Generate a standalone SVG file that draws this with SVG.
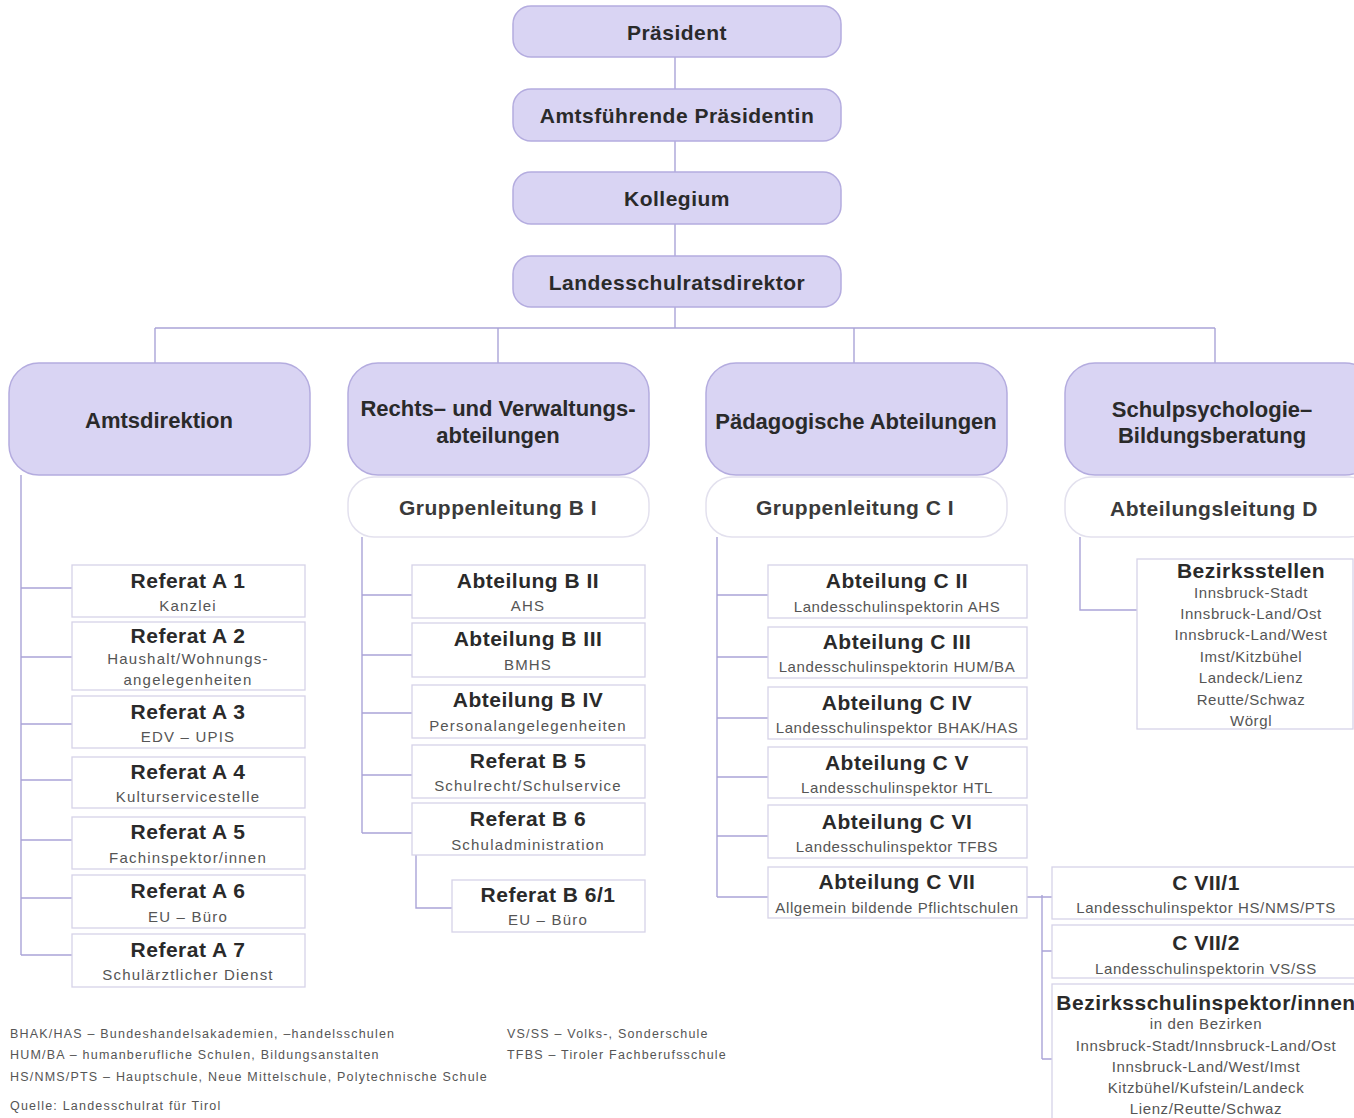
<svg xmlns="http://www.w3.org/2000/svg" width="1354" height="1118" viewBox="0 0 1354 1118">
<style>
.top{fill:#d9d4f3;stroke:#b4acdf;stroke-width:1.5}
.hdr{fill:#d9d4f3;stroke:#b4acdf;stroke-width:1.5}
.sub{fill:#ffffff;stroke:#e3e1ee;stroke-width:1.5}
.box{fill:#ffffff;stroke:#d6d3e8;stroke-width:1.3}
.t{font-family:"Liberation Sans",Arial,sans-serif;font-weight:bold;font-size:21px;fill:#2a2a2a;text-anchor:middle;letter-spacing:0.5px}
.h{font-family:"Liberation Sans",Arial,sans-serif;font-weight:bold;font-size:22px;fill:#2a2a2a;text-anchor:middle;letter-spacing:0px}
.g{font-family:"Liberation Sans",Arial,sans-serif;font-weight:bold;font-size:21px;fill:#3a3a3a;text-anchor:middle;letter-spacing:0.5px}
.s{font-family:"Liberation Sans",Arial,sans-serif;font-size:15px;fill:#555555;text-anchor:middle;letter-spacing:0.6px}
.w{letter-spacing:1.2px}
.l{font-family:"Liberation Sans",Arial,sans-serif;font-size:12.5px;fill:#555555;letter-spacing:1.2px}
.c{fill:none;stroke:#aaa4d8;stroke-width:1.4}
</style>
<rect width="1354" height="1118" fill="#ffffff"/>
<g id="connectors">
<path class="c" d="M675 57V89M675 141V172M675 224V256M675 307V328M155 328H1215M155 328V363M498 328V363M854 328V363M1215 328V363"/>
<path class="c" d="M21 475V955M21 588H72M21 657H72M21 724H72M21 780H72M21 840H72M21 898H72M21 955H72"/>
<path class="c" d="M362 537V833M362 595H412M362 655H412M362 713H412M362 775H412M362 833H412M416 855V908H452"/>
<path class="c" d="M717 537V897M717 595H768M717 657H768M717 718H768M717 777H768M717 836H768M717 897H768"/>
<path class="c" d="M1027 897H1052M1042 895V1059M1042 951H1052M1042 1059H1052"/>
<path class="c" d="M1080 537V610H1137"/>
</g>
<g id="praesident"><rect class="top" x="513" y="6" width="328" height="51" rx="18"/><text class="t" x="677" y="40">Präsident</text></g>
<g id="amtsfuehrende"><rect class="top" x="513" y="89" width="328" height="52" rx="18"/><text class="t" x="677" y="123">Amtsführende Präsidentin</text></g>
<g id="kollegium"><rect class="top" x="513" y="172" width="328" height="52" rx="18"/><text class="t" x="677" y="206">Kollegium</text></g>
<g id="direktor"><rect class="top" x="513" y="256" width="328" height="51" rx="18"/><text class="t" x="677" y="290">Landesschulratsdirektor</text></g>

<g id="amtsdirektion"><rect class="hdr" x="9" y="363" width="301" height="112" rx="30"/><text class="h" x="159" y="428">Amtsdirektion</text></g>
<g id="rechts"><rect class="hdr" x="348" y="363" width="301" height="112" rx="30"/><text class="h" x="498" y="416">Rechts– und Verwaltungs-</text><text class="h" x="498" y="443">abteilungen</text></g>
<g id="paedagogische"><rect class="hdr" x="706" y="363" width="301" height="112" rx="30"/><text class="h" x="856" y="429">Pädagogische Abteilungen</text></g>
<g id="schulpsychologie"><rect class="hdr" x="1065" y="363" width="310" height="112" rx="30"/><text class="h" x="1212" y="417">Schulpsychologie–</text><text class="h" x="1212" y="443">Bildungsberatung</text></g>

<g id="gruppenleitung-b1"><rect class="sub" x="348" y="477" width="301" height="60" rx="26"/><text class="g" x="498" y="515">Gruppenleitung B I</text></g>
<g id="gruppenleitung-c1"><rect class="sub" x="706" y="477" width="301" height="60" rx="26"/><text class="g" x="855" y="515">Gruppenleitung C I</text></g>
<g id="abteilungsleitung-d"><rect class="sub" x="1065" y="477" width="310" height="60" rx="26"/><text class="g" x="1214" y="516">Abteilungsleitung D</text></g>

<g id="referat-a1"><rect class="box" x="72" y="565" width="233" height="52"/><text class="t" x="188" y="588">Referat A 1</text><text class="s w" x="188" y="611">Kanzlei</text></g>
<g id="referat-a2"><rect class="box" x="72" y="622" width="233" height="68"/><text class="t" x="188" y="643">Referat A 2</text><text class="s w" x="188" y="664">Haushalt/Wohnungs-</text><text class="s w" x="188" y="685">angelegenheiten</text></g>
<g id="referat-a3"><rect class="box" x="72" y="696" width="233" height="52"/><text class="t" x="188" y="719">Referat A 3</text><text class="s w" x="188" y="742">EDV – UPIS</text></g>
<g id="referat-a4"><rect class="box" x="72" y="757" width="233" height="51"/><text class="t" x="188" y="779">Referat A 4</text><text class="s w" x="188" y="802">Kulturservicestelle</text></g>
<g id="referat-a5"><rect class="box" x="72" y="817" width="233" height="52"/><text class="t" x="188" y="839">Referat A 5</text><text class="s w" x="188" y="863">Fachinspektor/innen</text></g>
<g id="referat-a6"><rect class="box" x="72" y="875" width="233" height="53"/><text class="t" x="188" y="898">Referat A 6</text><text class="s w" x="188" y="922">EU – Büro</text></g>
<g id="referat-a7"><rect class="box" x="72" y="934" width="233" height="53"/><text class="t" x="188" y="957">Referat A 7</text><text class="s w" x="188" y="980">Schulärztlicher Dienst</text></g>

<g id="abteilung-b2"><rect class="box" x="412" y="565" width="233" height="53"/><text class="t" x="528" y="588">Abteilung B II</text><text class="s w" x="528" y="611">AHS</text></g>
<g id="abteilung-b3"><rect class="box" x="412" y="623" width="233" height="54"/><text class="t" x="528" y="646">Abteilung B III</text><text class="s w" x="528" y="670">BMHS</text></g>
<g id="abteilung-b4"><rect class="box" x="412" y="685" width="233" height="53"/><text class="t" x="528" y="707">Abteilung B IV</text><text class="s w" x="528" y="731">Personalangelegenheiten</text></g>
<g id="referat-b5"><rect class="box" x="412" y="745" width="233" height="53"/><text class="t" x="528" y="768">Referat B 5</text><text class="s w" x="528" y="791">Schulrecht/Schulservice</text></g>
<g id="referat-b6"><rect class="box" x="412" y="803" width="233" height="52"/><text class="t" x="528" y="826">Referat B 6</text><text class="s w" x="528" y="850">Schuladministration</text></g>
<g id="referat-b6-1"><rect class="box" x="452" y="880" width="193" height="52"/><text class="t" x="548" y="902">Referat B 6/1</text><text class="s w" x="548" y="925">EU – Büro</text></g>

<g id="abteilung-c2"><rect class="box" x="768" y="565" width="259" height="53"/><text class="t" x="897" y="588">Abteilung C II</text><text class="s" x="897" y="612">Landesschulinspektorin AHS</text></g>
<g id="abteilung-c3"><rect class="box" x="768" y="627" width="259" height="51"/><text class="t" x="897" y="649">Abteilung C III</text><text class="s" x="897" y="672">Landesschulinspektorin HUM/BA</text></g>
<g id="abteilung-c4"><rect class="box" x="768" y="687" width="259" height="52"/><text class="t" x="897" y="710">Abteilung C IV</text><text class="s" x="897" y="733">Landesschulinspektor BHAK/HAS</text></g>
<g id="abteilung-c5"><rect class="box" x="768" y="747" width="259" height="51"/><text class="t" x="897" y="770">Abteilung C V</text><text class="s" x="897" y="793">Landesschulinspektor HTL</text></g>
<g id="abteilung-c6"><rect class="box" x="768" y="805" width="259" height="53"/><text class="t" x="897" y="829">Abteilung C VI</text><text class="s" x="897" y="852">Landesschulinspektor TFBS</text></g>
<g id="abteilung-c7"><rect class="box" x="768" y="867" width="259" height="51"/><text class="t" x="897" y="889">Abteilung C VII</text><text class="s" x="897" y="913">Allgemein bildende Pflichtschulen</text></g>

<g id="c7-1"><rect class="box" x="1052" y="867" width="320" height="52"/><text class="t" x="1206" y="890">C VII/1</text><text class="s" x="1206" y="913">Landesschulinspektor HS/NMS/PTS</text></g>
<g id="c7-2"><rect class="box" x="1052" y="925" width="320" height="53"/><text class="t" x="1206" y="950">C VII/2</text><text class="s" x="1206" y="974">Landesschulinspektorin VS/SS</text></g>
<g id="bezirksschulinspektoren"><rect class="box" x="1052" y="984" width="320" height="150"/><text class="t" x="1206" y="1010">Bezirksschulinspektor/innen</text><text class="s" x="1206" y="1029">in den Bezirken</text><text class="s" x="1206" y="1051">Innsbruck-Stadt/Innsbruck-Land/Ost</text><text class="s" x="1206" y="1072">Innsbruck-Land/West/Imst</text><text class="s" x="1206" y="1093">Kitzbühel/Kufstein/Landeck</text><text class="s" x="1206" y="1114">Lienz/Reutte/Schwaz</text></g>

<g id="bezirksstellen"><rect class="box" x="1137" y="559" width="216" height="170"/><text class="t" x="1251" y="578">Bezirksstellen</text><text class="s" x="1251" y="598">Innsbruck-Stadt</text><text class="s" x="1251" y="619">Innsbruck-Land/Ost</text><text class="s" x="1251" y="640">Innsbruck-Land/West</text><text class="s" x="1251" y="662">Imst/Kitzbühel</text><text class="s" x="1251" y="683">Landeck/Lienz</text><text class="s" x="1251" y="705">Reutte/Schwaz</text><text class="s" x="1251" y="726">Wörgl</text></g>

<g id="legend">
<text class="l" x="10" y="1038">BHAK/HAS – Bundeshandelsakademien, –handelsschulen</text>
<text class="l" x="10" y="1059">HUM/BA – humanberufliche Schulen, Bildungsanstalten</text>
<text class="l" x="10" y="1081">HS/NMS/PTS – Hauptschule, Neue Mittelschule, Polytechnische Schule</text>
<text class="l" x="10" y="1110">Quelle: Landesschulrat für Tirol</text>
<text class="l" x="507" y="1038">VS/SS – Volks-, Sonderschule</text>
<text class="l" x="507" y="1059">TFBS – Tiroler Fachberufsschule</text>
</g>
</svg>
